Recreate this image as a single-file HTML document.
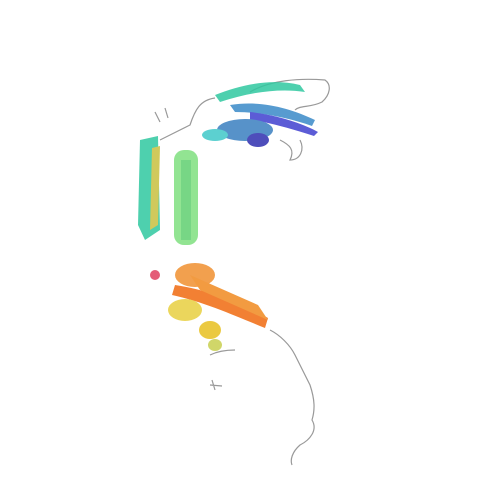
<!DOCTYPE html>
<html><head><meta charset="utf-8"><style>html,body{margin:0;padding:0;background:#fff}svg{display:block}</style></head>
<body>
<svg width="500" height="500" viewBox="0 0 500 500">
<g fill="none" stroke="#999" stroke-width="1.2">
<path d="M250 92 C270 80 300 78 325 80 C332 85 330 95 322 102 C310 108 300 105 295 110"/>
<path d="M215 98 C200 100 195 110 190 125 C180 130 170 135 160 140"/>
<path d="M280 140 C290 145 295 150 290 160 C300 160 305 150 300 140"/>
<path d="M270 330 C280 335 290 345 295 355 C300 365 305 375 310 385 C315 400 315 410 312 420 C318 430 310 440 300 445 C292 452 290 460 292 465"/>
<path d="M210 355 C220 350 230 350 235 350"/>
<path d="M212 380 L215 390 M210 385 L222 386"/>
<path d="M155 112 L160 122 M165 108 L168 118"/>
</g>
<g opacity="0.85">
<path d="M215 95 C240 85 270 78 300 85 L305 92 C280 88 250 92 220 102 Z" fill="#30c8a0"/>
<path d="M230 105 C260 100 290 108 315 120 L312 126 C290 118 260 112 235 112 Z" fill="#3a8ac8"/>
<path d="M250 112 C275 115 300 122 318 132 L314 136 C295 130 270 122 250 120 Z" fill="#4040d0"/>
<ellipse cx="245" cy="130" rx="28" ry="11" fill="#3a7fc0"/>
<ellipse cx="258" cy="140" rx="11" ry="7" fill="#3030b0"/>
<ellipse cx="215" cy="135" rx="13" ry="6" fill="#40c8c8"/>
</g>
<g opacity="0.85">
<path d="M140 140 L158 136 L160 230 L145 240 L138 225 Z" fill="#30c8a0"/>
<path d="M152 148 L160 146 L158 225 L150 230 Z" fill="#c8c040"/>
<rect x="174" y="150" width="24" height="95" rx="10" fill="#80e080"/>
<rect x="181" y="160" width="10" height="80" fill="#60d070"/>
</g>
<g opacity="0.85">
<ellipse cx="195" cy="275" rx="20" ry="12" fill="#f09030"/>
<path d="M175 285 C210 290 245 305 268 318 L265 328 C240 318 205 302 172 295 Z" fill="#f06a10"/>
<path d="M190 275 L258 305 L268 320 L200 290 Z" fill="#f08a20"/>
<ellipse cx="185" cy="310" rx="17" ry="11" fill="#e8d040"/>
<ellipse cx="210" cy="330" rx="11" ry="9" fill="#e8c020"/>
<circle cx="155" cy="275" r="5" fill="#e04060"/>
<ellipse cx="215" cy="345" rx="7" ry="6" fill="#c8d050"/>
</g>
</svg>
</body></html>
